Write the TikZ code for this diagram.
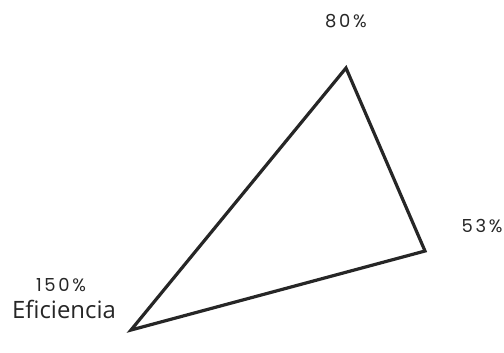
\documentclass[tikz,border=0pt]{standalone}
\usepackage{fontspec}
\setmainfont{Open Sans}
\newfontfamily\pctfont[LetterSpace=15]{Poppins}
\begin{document}
\begin{tikzpicture}[x=1bp,y=-1bp,
  pct/.style={font=\pctfont\fontsize{18}{20}\selectfont, text=black!85, inner sep=0pt},
  lbl/.style={font=\fontsize{24}{27}\selectfont, text=black!85, inner sep=0pt},
  edge/.style={line width=3.2bp, draw=black!85, line join=miter}]
\useasboundingbox (0,0) rectangle (504,352);
\coordinate (top) at (346,68);
\coordinate (right) at (425,251);
\coordinate (left) at (131,330);
\draw[edge] (top) -- (right) -- (left) -- cycle;
\node[pct] (p80) at (346,21) {80\%};
\node[pct] (p53) at (482,226) {53\%};
\node[pct] (p150) at (61,285) {150\%};
\node[lbl] (eff) at (64,309) {Eficiencia};
\end{tikzpicture}
\end{document}
